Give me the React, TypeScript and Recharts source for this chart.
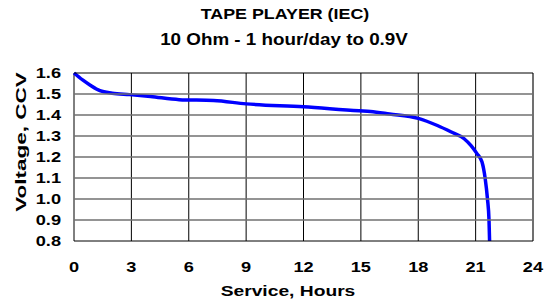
import { Line, LineChart, ReferenceLine, XAxis, YAxis } from 'recharts';

const hours = [
  0, 0.45, 0.85, 1.35, 2.0, 2.9, 4.0, 5.5, 7.3, 9, 12, 14.9, 15.5, 16.5, 18, 19.0, 19.7, 20.4,
  20.75, 21.07, 21.33, 21.5, 21.62, 21.7, 21.73,
];
const voltage = [
  1.6, 1.567, 1.542, 1.516, 1.504, 1.497, 1.488, 1.473, 1.469, 1.453, 1.439, 1.42, 1.417, 1.405,
  1.384, 1.35, 1.32, 1.287, 1.255, 1.216, 1.177, 1.097, 1.0, 0.9, 0.8,
];
const xTicks = [0, 3, 6, 9, 12, 15, 18, 21, 24];
const yTicks = [0.8, 0.9, 1.0, 1.1, 1.2, 1.3, 1.4, 1.5, 1.6];
const xGrid = [0, 3, 6, 9, 12, 15, 18, 21];

const data = hours.map((h, i) => ({ h, v: voltage[i] }));

const W = 547;
const H = 303;
const margin = { top: 73, right: 14, bottom: 0, left: 0 };
const Y_AXIS_W = 74;
const PLOT_LEFT = margin.left + Y_AXIS_W;
const PLOT_RIGHT = W - margin.right;

const font = '"Liberation Sans", Arial, sans-serif';
const STRETCH = 1.3;

// the source renders its labels noticeably wide, so stretch them along x
const XTick = ({ x, y, payload }: any) => (
  <text
    x={x}
    y={y}
    dy="0.71em"
    textAnchor="middle"
    fill="#000"
    fontSize={14}
    fontWeight={700}
    fontFamily={font}
    transform={`translate(${x} ${y}) scale(${STRETCH} 1) translate(${-x} ${-y})`}
  >
    {payload.value}
  </text>
);

// horizontal grid lines are drawn with the y ticks (CartesianGrid kept dropping them)
const YTick = ({ x, y, payload, index }: any) => {
  const edge = index === 0 || index === yTicks.length - 1;
  return (
    <g>
      <line
        x1={PLOT_LEFT}
        x2={PLOT_RIGHT}
        y1={y}
        y2={y}
        stroke={edge ? '#000000' : '#707070'}
        strokeWidth={edge ? 1 : 1.5}
      />
      <text
        x={x}
        y={y}
        dy="0.355em"
        textAnchor="end"
        fill="#000"
        fontSize={14}
        fontWeight={700}
        fontFamily={font}
        transform={`translate(${x} ${y}) scale(${STRETCH} 1) translate(${-x} ${-y})`}
      >
        {Number(payload.value).toFixed(1)}
      </text>
    </g>
  );
};

const textBox = (cx: number, top: number, size: number, sx: number) => ({
  position: 'absolute' as const,
  left: cx,
  top,
  fontSize: size,
  lineHeight: `${size}px`,
  fontWeight: 700,
  whiteSpace: 'nowrap' as const,
  transform: `translateX(-50%) scaleX(${sx})`,
});

export default function App() {
  return (
    <div style={{ position: 'absolute', left: 0, top: 0, width: W, height: H, fontFamily: font }}>
      <LineChart width={W} height={H} data={data} margin={margin}>
        {xGrid.map(x => (
          <ReferenceLine key={`x${x}`} x={x} stroke="#000000" />
        ))}
        <ReferenceLine x={24} stroke="#404040" strokeWidth={1.5} />
        <XAxis
          dataKey="h"
          type="number"
          domain={[0, 24]}
          ticks={xTicks}
          interval={0}
          height={62}
          tickLine={false}
          axisLine={false}
          tickMargin={15}
          tick={<XTick />}
        />
        <YAxis
          type="number"
          domain={[0.8, 1.6]}
          ticks={yTicks}
          interval={0}
          width={Y_AXIS_W}
          tickLine={false}
          axisLine={false}
          tickMargin={7}
          tick={<YTick />}
        />
        <Line dataKey="v" type="monotone" stroke="#0000FF" strokeWidth={3.5} dot={false} isAnimationActive={false} />
      </LineChart>
      <div style={textBox(284.5, 7, 14.5, 1.23)}>TAPE PLAYER (IEC)</div>
      <div style={textBox(283.5, 31, 16.5, 1.14)}>10 Ohm  - 1 hour/day to 0.9V</div>
      <div style={textBox(287.5, 283, 15.5, 1.24)}>Service, Hours</div>
      <div
        style={{
          position: 'absolute',
          left: 20,
          top: 141.5,
          fontSize: 15,
          lineHeight: '15px',
          fontWeight: 700,
          whiteSpace: 'nowrap',
          transform: 'translate(-50%, -50%) rotate(-90deg) scaleX(1.5)',
        }}
      >
        Voltage, CCV
      </div>
    </div>
  );
}
